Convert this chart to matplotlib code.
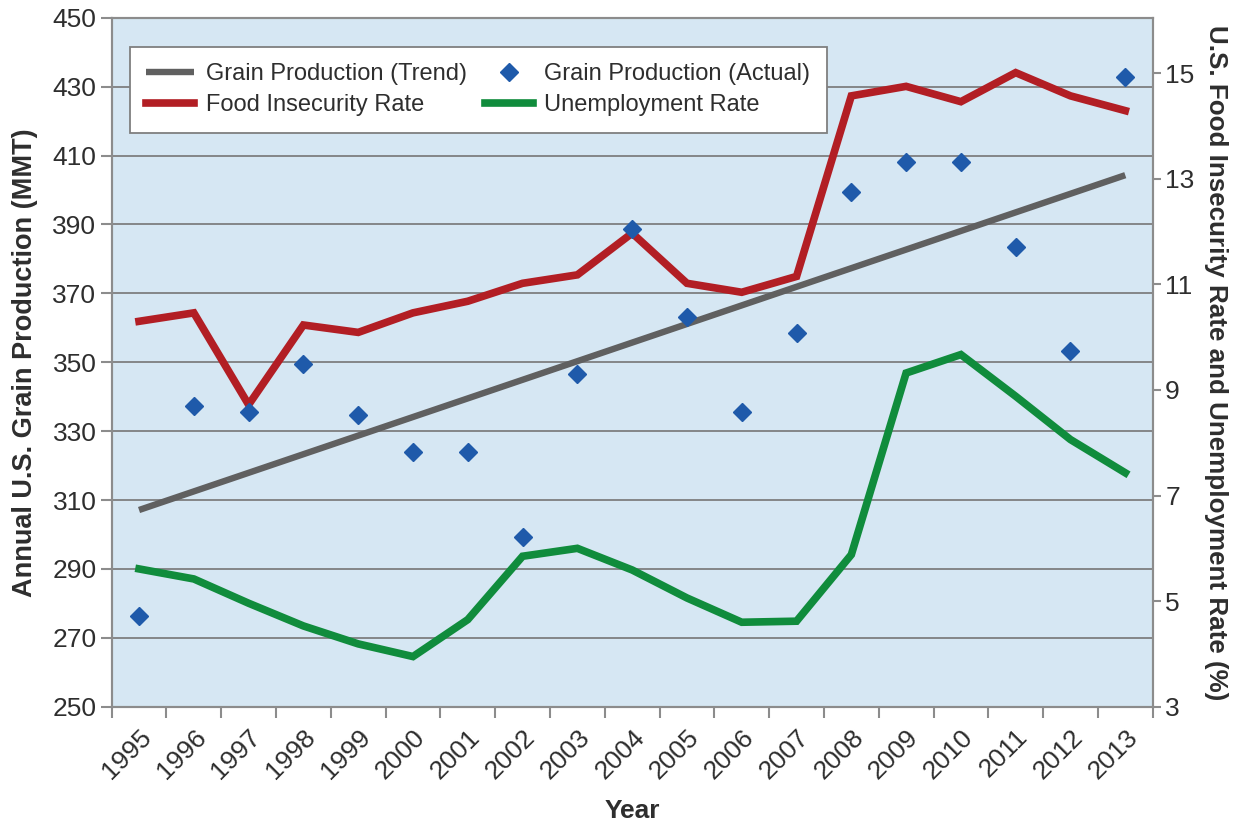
import numpy as np
import matplotlib
matplotlib.use("Agg")
import matplotlib.pyplot as plt

plt.rcParams['font.family'] = ['Liberation Sans', 'DejaVu Sans']

# Data
years = [1995, 1996, 1997, 1998, 1999, 2000, 2001, 2002, 2003, 2004,
         2005, 2006, 2007, 2008, 2009, 2010, 2011, 2012, 2013]
grain_actual = [276.4, 337.3, 335.6, 349.4, 334.7, 324.0, 324.0, 299.2, 346.7, 388.6,
                363.2, 335.6, 358.6, 399.5, 408.2, 408.2, 383.5, 353.3, 432.9]
trend_years = [1995, 2013]
trend_values = [307.1, 404.3]
food_insecurity = [10.30, 10.46, 8.72, 10.23, 10.09, 10.46, 10.68, 11.02, 11.18, 11.97,
                   11.02, 10.85, 11.15, 14.57, 14.75, 14.46, 15.01, 14.57, 14.29]
unemployment = [5.61, 5.42, 4.96, 4.53, 4.19, 3.95, 4.65, 5.85, 6.00, 5.59,
                5.06, 4.60, 4.62, 5.88, 9.32, 9.67, 8.88, 8.06, 7.43]

left_ticks = list(range(250, 451, 20))
right_ticks = list(range(3, 16, 2))

text_col = "#2e2e2e"
grid_col = "#767676"
spine_col = "#8c8c8c"

x = np.arange(len(years))
tx = [years.index(y) for y in trend_years]

fig = plt.figure(figsize=(12.46, 8.21), dpi=100)
ax = fig.add_axes([0.0896, 0.1392, 0.8355, 0.8392])
ax2 = ax.twinx()

ax.set_facecolor("#d6e7f3")
ax.set_xlim(-0.5, len(years) - 0.5)
ax.set_ylim(250, 450)
ax2.set_ylim(3, 16.05)

# grid from left axis
ax.set_yticks(left_ticks)
ax.yaxis.grid(True, color=grid_col, linewidth=1.2)
ax.set_axisbelow(True)

trend_line, = ax.plot(tx, trend_values, color="#606060", linewidth=4.6,
                      solid_capstyle="butt", zorder=2)
food_line, = ax2.plot(x, food_insecurity, color="#b21e24", linewidth=5.5,
                      solid_joinstyle="miter", zorder=3)
unemp_line, = ax2.plot(x, unemployment, color="#108c3c", linewidth=5.5,
                       solid_joinstyle="miter", zorder=3)
# diamonds on top of everything, but in left-axis units
actual_pts, = ax2.plot(x, grain_actual, linestyle="none", marker="D", markersize=9.5,
                       color="#1f5aaa", transform=ax.transData, zorder=4)

# x axis: labels centred on categories, tick marks on boundaries
ax.set_xticks(x)
ax.set_xticklabels([str(y) for y in years])
ax.set_xticks(np.arange(-0.5, len(years), 1), minor=True)
ax.tick_params(axis="x", which="major", length=0, pad=13, labelsize=19, labelcolor=text_col)
ax.tick_params(axis="x", which="minor", length=8, width=1.5, color=spine_col, direction="out")
for lab in ax.get_xticklabels():
    lab.set_rotation(45)
    lab.set_ha("right")
    lab.set_va("top")
    lab.set_rotation_mode("anchor")

ax.tick_params(axis="y", length=8, width=1.5, color=spine_col, labelsize=19,
               labelcolor=text_col, pad=3)
ax2.set_yticks(right_ticks)
ax2.tick_params(axis="y", length=6, width=1.5, color=spine_col, labelsize=19,
                labelcolor=text_col, pad=3)

for a in (ax, ax2):
    for s in a.spines.values():
        s.set_color(spine_col)
        s.set_linewidth(1.5)

ax.set_xlabel("Year", fontsize=19, fontweight="bold", color=text_col, labelpad=11)
ax.set_ylabel("Annual U.S. Grain Production (MMT)", fontsize=19.5, fontweight="bold",
              color=text_col, labelpad=10)
ax2.set_ylabel("U.S. Food Insecurity Rate and Unemployment Rate (%)", fontsize=18.7,
               fontweight="bold", color=text_col, rotation=270, labelpad=24)

leg = ax2.legend([trend_line, food_line, actual_pts, unemp_line],
                 ["Grain Production (Trend)", "Food Insecurity Rate",
                  "Grain Production (Actual)", "Unemployment Rate"],
                 ncol=2, loc="upper left", bbox_to_anchor=(0.0176, 0.958),
                 borderaxespad=0, fontsize=17, handlelength=2.0, handletextpad=0.5,
                 columnspacing=0.8, labelspacing=0.38, borderpad=0.7,
                 fancybox=False, framealpha=1, edgecolor="#7f7f7f")
leg.get_frame().set_linewidth(1.3)
for t in leg.get_texts():
    t.set_color(text_col)
leg.set_zorder(10)

fig.savefig("out.png", dpi=100)
